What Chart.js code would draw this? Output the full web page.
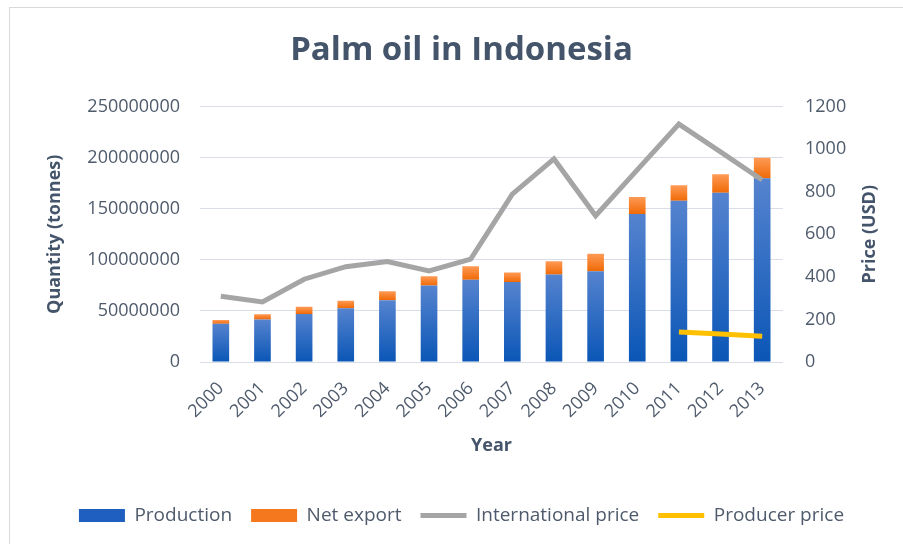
<!DOCTYPE html>
<html>
<head>
<meta charset="utf-8">
<script src="https://cdn.jsdelivr.net/npm/chart.js@4.4.1/dist/chart.umd.min.js"></script>
<style>
  html, body { margin: 0; padding: 0; background: #fff; }
  #wrap { width: 903px; height: 544px; }
</style>
</head>
<body>
<div id="wrap"><canvas id="palmChart" width="903" height="544"></canvas></div>
<script>
// values
const years = ['2000', '2001', '2002', '2003', '2004', '2005', '2006', '2007', '2008', '2009', '2010', '2011', '2012', '2013'];
const production = [37500000, 41500000, 47000000, 52600000, 60500000, 74800000, 80400000, 78400000, 85700000, 88900000, 144800000, 157900000, 165700000, 179800000];
const netExport = [3500000, 5300000, 7000000, 7400000, 8800000, 9200000, 13400000, 9100000, 13000000, 17000000, 16700000, 15000000, 18000000, 20200000];
const internationalPrice = [309, 282, 389, 448, 472, 428, 483, 789, 954, 687, 903, 1118, 987, 855];
const producerPrice = [null, null, null, null, null, null, null, null, null, null, null, 141, 131, 121];

const textColor = '#44546a';
const tickColor = '#4f5b6c';
const font = '"Open Sans", Lato, sans-serif';

// each bar gets its own light-to-dark gradient
function barFill(light, dark, below) {
  return (c) => {
    const chart = c.chart;
    if (c.type !== 'data' || !chart.chartArea) return dark;
    const y = chart.scales.y;
    const base = below ? below[c.dataIndex] : 0;
    const val = chart.data.datasets[c.datasetIndex].data[c.dataIndex];
    const top = y.getPixelForValue(base + val);
    const bottom = y.getPixelForValue(base);
    if (!isFinite(top) || !isFinite(bottom) || top === bottom) return dark;
    const g = chart.ctx.createLinearGradient(0, top, 0, bottom);
    g.addColorStop(0, light);
    g.addColorStop(1, dark);
    return g;
  };
}

const legendFill = ['#1f5fbf', '#f5781e', '#a5a5a5', '#ffc000'];

const frame = {
  id: 'frame',
  beforeDraw(chart) {
    const ctx = chart.ctx;
    ctx.save();
    ctx.fillStyle = '#fff';
    ctx.fillRect(0, 0, chart.width, chart.height);
    ctx.strokeStyle = '#d9d9d9';
    ctx.lineWidth = 1;
    ctx.strokeRect(9.5, 7.5, chart.width + 20, chart.height + 20);
    ctx.restore();
  },
  afterDraw(chart) {
    // right axis title reads bottom-to-top like the left one
    const ctx = chart.ctx;
    const a = chart.chartArea;
    const y1 = chart.scales.y1;
    ctx.save();
    ctx.translate(y1.right - 33, (a.top + a.bottom) / 2);
    ctx.rotate(-Math.PI / 2);
    ctx.font = 'bold 18px ' + font;
    ctx.fillStyle = textColor;
    ctx.textAlign = 'center';
    ctx.textBaseline = 'middle';
    ctx.fillText('Price (USD)', 0, 0);
    ctx.restore();
  }
};

const ctx = document.getElementById('palmChart').getContext('2d');
const myChart = new Chart(ctx, {
  data: {
    labels: years,
    datasets: [
      {
        type: 'bar',
        label: 'Production',
        data: production,
        backgroundColor: barFill('#5583cf', '#0a56b6'),
        borderWidth: 0,
        pointStyle: 'rect',
        yAxisID: 'y',
        order: 2
      },
      {
        type: 'bar',
        label: 'Net export',
        data: netExport,
        backgroundColor: barFill('#fe9a56', '#f06a06', production),
        borderWidth: 0,
        pointStyle: 'rect',
        yAxisID: 'y',
        order: 2
      },
      {
        type: 'line',
        label: 'International price',
        data: internationalPrice,
        borderColor: '#a5a5a5',
        backgroundColor: '#a5a5a5',
        borderWidth: 5,
        pointRadius: 0,
        pointStyle: 'line',
        tension: 0,
        yAxisID: 'y1',
        order: 1
      },
      {
        type: 'line',
        label: 'Producer price',
        data: producerPrice,
        borderColor: '#ffc000',
        backgroundColor: '#ffc000',
        borderWidth: 5,
        pointRadius: 0,
        pointStyle: 'line',
        tension: 0,
        yAxisID: 'y1',
        order: 1
      }
    ]
  },
  plugins: [frame],
  options: {
    responsive: false,
    animation: false,
    layout: { padding: { top: 10, left: 20, right: 0, bottom: 9 } },
    datasets: { bar: { barPercentage: 0.4, categoryPercentage: 1 } },
    plugins: {
      tooltip: { enabled: false },
      title: {
        display: true,
        text: 'Palm oil in Indonesia',
        color: textColor,
        font: { family: font, size: 33, weight: 'bold' },
        padding: { top: 21, bottom: 36 }
      },
      legend: {
        position: 'bottom',
        labels: {
          usePointStyle: true,
          pointStyleWidth: 46,
          boxHeight: 13,
          padding: 19,
          color: tickColor,
          font: { family: font, size: 19 },
          sort: (a, b) => a.datasetIndex - b.datasetIndex,
          generateLabels(chart) {
            const items = Chart.defaults.plugins.legend.labels.generateLabels(chart);
            items.forEach(it => {
              it.fillStyle = legendFill[it.datasetIndex];
              it.strokeStyle = legendFill[it.datasetIndex];
            });
            return items;
          }
        }
      }
    },
    scales: {
      x: {
        stacked: true,
        grid: { display: false },
        border: { display: false },
        ticks: {
          color: tickColor,
          font: { family: font, size: 18 },
          minRotation: 45,
          maxRotation: 45,
          padding: 8
        },
        title: {
          display: true,
          text: 'Year',
          color: textColor,
          font: { family: font, size: 18, weight: 'bold' },
          padding: { top: 0, bottom: 30 }
        },
        afterFit(scale) { scale.height = 125; }
      },
      y: {
        stacked: true,
        position: 'left',
        min: 0,
        max: 250000000,
        grid: { color: '#d9dde6', drawTicks: false },
        border: { display: false },
        ticks: {
          stepSize: 50000000,
          color: tickColor,
          font: { family: font, size: 18 },
          padding: 20,
          callback: (v) => String(v)
        },
        title: {
          display: true,
          text: 'Quantity (tonnes)',
          color: textColor,
          font: { family: font, size: 18, weight: 'bold' },
          padding: { top: 24, bottom: 0 }
        },
        afterFit(scale) { scale.width = 180; }
      },
      y1: {
        position: 'right',
        min: 0,
        max: 1200,
        grid: { display: false, drawTicks: false },
        border: { display: false },
        ticks: {
          stepSize: 200,
          color: tickColor,
          font: { family: font, size: 18 },
          padding: 22,
          callback: (v) => String(v)
        },
        afterFit(scale) { scale.width = 120; }
      }
    }
  }
});
</script>
</body>
</html>
